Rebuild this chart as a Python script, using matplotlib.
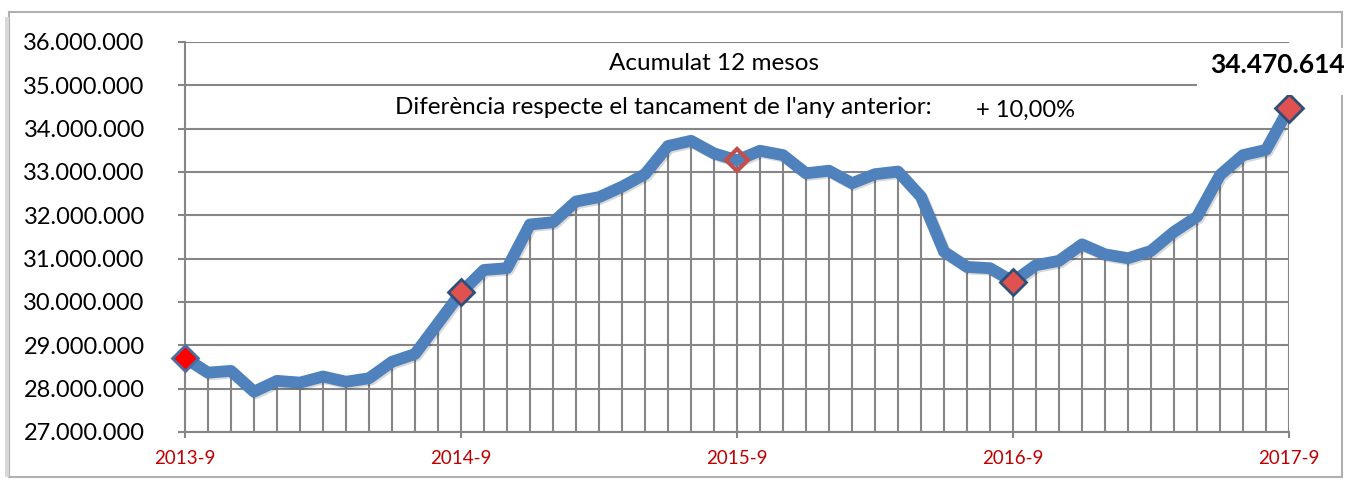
import matplotlib
matplotlib.use("Agg")
import matplotlib.pyplot as plt
import matplotlib.patheffects as pe
from matplotlib.patches import Rectangle
from matplotlib.ticker import FuncFormatter

plt.rcParams['font.family'] = ['Lato', 'DejaVu Sans']

# ---- data (monthly, 12-month accumulated) ----
months = ["2013-9", "2013-10", "2013-11", "2013-12", "2014-1", "2014-2", "2014-3", "2014-4",
          "2014-5", "2014-6", "2014-7", "2014-8", "2014-9", "2014-10", "2014-11", "2014-12",
          "2015-1", "2015-2", "2015-3", "2015-4", "2015-5", "2015-6", "2015-7", "2015-8",
          "2015-9", "2015-10", "2015-11", "2015-12", "2016-1", "2016-2", "2016-3", "2016-4",
          "2016-5", "2016-6", "2016-7", "2016-8", "2016-9", "2016-10", "2016-11", "2016-12",
          "2017-1", "2017-2", "2017-3", "2017-4", "2017-5", "2017-6", "2017-7", "2017-8",
          "2017-9"]
values = [28710000, 28370000, 28410000, 27930000, 28180000, 28140000, 28280000, 28160000,
          28240000, 28620000, 28800000, 29510000, 30220000, 30740000, 30780000, 31790000,
          31840000, 32320000, 32420000, 32660000, 32950000, 33600000, 33720000, 33430000,
          33270000, 33490000, 33390000, 32970000, 33030000, 32740000, 32950000, 33010000,
          32430000, 31160000, 30810000, 30780000, 30470000, 30850000, 30950000, 31330000,
          31100000, 31010000, 31180000, 31620000, 31970000, 32930000, 33390000, 33510000,
          34470614]
year_ticks = ["2013-9", "2014-9", "2015-9", "2016-9", "2017-9"]
y_ticks = [27000000, 28000000, 29000000, 30000000, 31000000, 32000000, 33000000,
           34000000, 35000000, 36000000]
title_text = "Acumulat 12 mesos"
diff_text = "Diferència respecte el tancament de l'any anterior:"
diff_value = "+ 10,00%"
last_label = "34.470.614"

W, H = 1345, 482
fig = plt.figure(figsize=(W / 100, H / 100), dpi=100)
fig.patch.set_facecolor("white")

# outer frame
fig.patches.append(Rectangle((9 / W, 5 / H), 1333 / W, 465 / H, transform=fig.transFigure,
                             fill=False, edgecolor="#B0B0B0", lw=1.5))
fig.patches.append(Rectangle((5 / W, 5 / H), 4 / W, 460 / H, transform=fig.transFigure,
                             facecolor="#D8D8D8", edgecolor="none"))

ax = fig.add_axes([185 / W, 1 - 432 / H, (1289 - 185) / W, (432 - 42) / H])
x = list(range(len(months)))

grid_c = "#868686"
ax.set_ylim(27000000, 36000000)
ax.set_xlim(0, len(months) - 1)
ax.set_yticks(y_ticks)
ax.yaxis.set_major_formatter(FuncFormatter(lambda v, p: f"{v:,.0f}".replace(",", ".")))
ax.grid(axis="y", color=grid_c, lw=1.5, zorder=1)
ax.set_axisbelow(True)

tick_pos = [months.index(m) for m in year_ticks]
ax.set_xticks(tick_pos)
ax.set_xticklabels(year_ticks)

for s in ["top", "right"]:
    ax.spines[s].set_visible(False)
for s in ["left", "bottom"]:
    ax.spines[s].set_color(grid_c)
    ax.spines[s].set_linewidth(1.5)

ax.tick_params(axis="y", length=5, width=1.5, color=grid_c, pad=24, labelsize=17,
               labelcolor="black")
ax.tick_params(axis="x", length=4, width=1.5, color=grid_c, pad=9, labelsize=13.5,
               labelcolor="#C00000")

# drop lines
ax.vlines(x, 27000000, values, colors=grid_c, lw=1.5, zorder=2)

# main line
ax.plot(x, values, color="#4F81BD", lw=8.5, solid_joinstyle="round", zorder=3,
        solid_capstyle="round", clip_on=False,
        path_effects=[pe.SimpleLineShadow(offset=(1.2, -1.2), shadow_color="black", alpha=0.15),
                      pe.Normal()])

# markers at year points
mk = [months.index(m) for m in year_ticks]
mk_vals = [values[i] for i in mk]
face = ["#FF0000", "#E0524F", "none", "#E0524F", "#E0524F"]
edge = ["#4A6FA5", "#2F4F7A", "#C0504D", "#2F4F7A", "#2F4F7A"]
size = [13, 13, 11, 13, 14]
for xi, yi, fc, ec, ms in zip(mk, mk_vals, face, edge, size):
    ax.plot([xi], [yi], marker="D", markersize=ms, markerfacecolor=fc, markeredgecolor=ec,
            markeredgewidth=2.0 if fc != "none" else 3.0, zorder=5, clip_on=False,
            linestyle="none")

# texts
fig.text(714 / W, 1 - 63 / H, title_text, ha="center", va="center", fontsize=17.5)
fig.text(395 / W, 1 - 108 / H, diff_text, ha="left", va="center", fontsize=17.5)
fig.text(976 / W, 1 - 110 / H, diff_value, ha="left", va="center", fontsize=17)
fig.patches.append(Rectangle((1197 / W, 1 - 95 / H), 148 / W, 47 / H,
                             transform=fig.transFigure, facecolor="white", edgecolor="none",
                             zorder=4))
fig.text(1210 / W, 1 - 65 / H, last_label, ha="left", va="center", fontsize=19,
         fontweight="bold", zorder=6)

fig.savefig("out.png", dpi=100)
